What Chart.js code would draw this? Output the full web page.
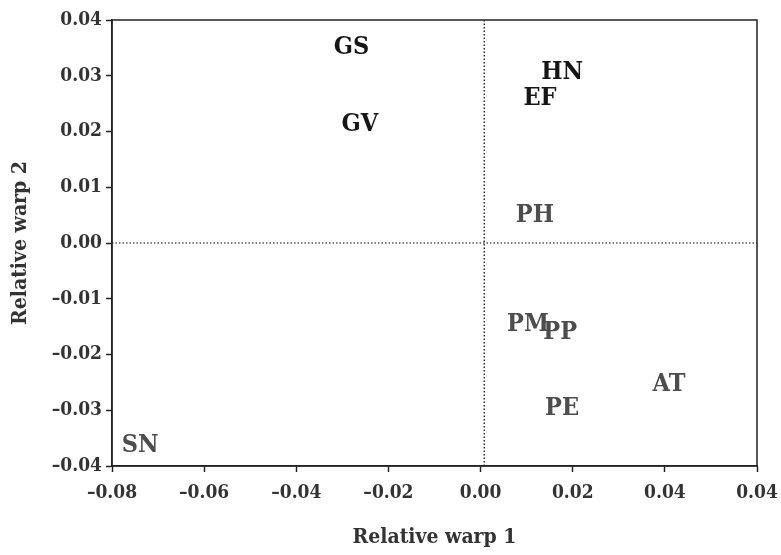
<!DOCTYPE html>
<html>
<head>
<meta charset="utf-8">
<script src="https://cdn.jsdelivr.net/npm/chart.js@4.4.0/dist/chart.umd.min.js"></script>
<style>
html, body { margin: 0; padding: 0; background: #fff; }
</style>
</head>
<body>
<canvas id="warpChart" width="781" height="555"></canvas>
<script>
// taxa and their scores on the two relative warps
const taxa  = ['GS', 'GV', 'HN', 'EF', 'PH', 'PM', 'PP', 'AT', 'PE', 'SN'];
const warp1 = [-0.028, -0.0262, 0.0177, 0.0129, 0.0118, 0.0103, 0.0173, 0.0409, 0.0177, -0.0739];
const warp2 = [0.035, 0.0213, 0.0305, 0.026, 0.005, -0.0147, -0.016, -0.0253, -0.0296, -0.0364];
const group = ['A', 'A', 'A', 'A', 'B', 'B', 'B', 'B', 'B', 'B'];

const xTickLabels = ['\u20130.08', '\u20130.06', '\u20130.04', '\u20130.02', '0.00', '0.02', '0.04', '0.04'];
const yTickLabels = ['\u20130.04', '\u20130.03', '\u20130.02', '\u20130.01', '0.00', '0.01', '0.02', '0.03', '0.04'];

const groupColors = { A: '#161616', B: '#4d4d4d' };
const serif = '"DejaVu Serif Condensed", "DejaVu Serif", "Liberation Serif", serif';

function groupData(g) {
    let pts = [], names = [];
    for (let i = 0; i < taxa.length; i++) {
        if (group[i] === g) {
            pts.push({ x: warp1[i], y: warp2[i] });
            names.push(taxa[i]);
        }
    }
    return { pts, names };
}

let datasets = [];
Object.keys(groupColors).forEach(g => {
    let d = groupData(g);
    datasets.push({
        type: 'scatter',
        label: 'group ' + g,
        data: d.pts,
        names: d.names,
        textColor: groupColors[g],
        pointRadius: 0,
        pointHoverRadius: 0
    });
});

// dotted zero lines
datasets.push({
    type: 'line',
    data: [{ x: -0.08, y: 0 }, { x: 0.06, y: 0 }],
    borderColor: '#555',
    borderWidth: 1.5,
    borderDash: [1.5, 2],
    pointRadius: 0,
    fill: false
});
datasets.push({
    type: 'line',
    data: [{ x: 0.0008, y: -0.04 }, { x: 0.0008, y: 0.04 }],
    borderColor: '#333',
    borderWidth: 1.5,
    borderDash: [1.5, 2],
    pointRadius: 0,
    fill: false
});

const textLabels = {
    id: 'textLabels',
    afterDatasetsDraw(chart) {
        const ctx = chart.ctx;
        ctx.save();
        ctx.font = 'bold 25px ' + serif;
        ctx.textAlign = 'center';
        ctx.textBaseline = 'middle';
        chart.data.datasets.forEach((ds, i) => {
            if (!ds.names) return;
            ctx.fillStyle = ds.textColor;
            chart.getDatasetMeta(i).data.forEach((pt, j) => {
                ctx.fillText(ds.names[j], pt.x, pt.y);
            });
        });
        ctx.restore();
    }
};

const frame = {
    id: 'frame',
    afterDraw(chart) {
        const a = chart.chartArea;
        const ctx = chart.ctx;
        ctx.save();
        ctx.strokeStyle = '#222';
        ctx.lineWidth = 1.5;
        ctx.strokeRect(a.left, a.top, a.right - a.left, a.bottom - a.top);
        ctx.restore();
    }
};

let ctx = document.getElementById('warpChart').getContext('2d');
new Chart(ctx, {
    data: { datasets: datasets },
    options: {
        responsive: false,
        animation: false,
        devicePixelRatio: 1,
        layout: { padding: { top: 20, right: 24, left: 0, bottom: 0 } },
        plugins: {
            legend: { display: false },
            tooltip: { enabled: false }
        },
        scales: {
            x: {
                type: 'linear',
                min: -0.08,
                max: 0.06,
                afterFit: s => {
                    s.height = 89;
                    s.paddingLeft = 0;
                    s.paddingRight = 0;
                },
                ticks: {
                    stepSize: 0.02,
                    color: '#333',
                    font: { family: serif, size: 19, weight: 'bold' },
                    padding: 10,
                    callback: (v, i) => xTickLabels[i]
                },
                grid: { drawOnChartArea: false, tickLength: 6, tickColor: '#222', tickWidth: 1.5 },
                border: { color: '#222', width: 1.5 },
                title: {
                    display: true,
                    text: 'Relative warp 1',
                    color: '#333',
                    font: { family: serif, size: 21, weight: 'bold' },
                    padding: { top: 8, bottom: 5 }
                }
            },
            y: {
                type: 'linear',
                min: -0.04,
                max: 0.04,
                afterFit: s => {
                    s.width = 112;
                    s.paddingTop = 0;
                    s.paddingBottom = 0;
                },
                ticks: {
                    stepSize: 0.01,
                    color: '#333',
                    font: { family: serif, size: 19, weight: 'bold' },
                    padding: 4,
                    callback: (v, i) => yTickLabels[i]
                },
                grid: { drawOnChartArea: false, tickLength: 6, tickColor: '#222', tickWidth: 1.5 },
                border: { color: '#222', width: 1.5 },
                title: {
                    display: true,
                    text: 'Relative warp 2',
                    color: '#333',
                    font: { family: serif, size: 21, weight: 'bold' },
                    padding: { top: 8, bottom: 4 }
                }
            }
        }
    },
    plugins: [textLabels, frame]
});
</script>
</body>
</html>
